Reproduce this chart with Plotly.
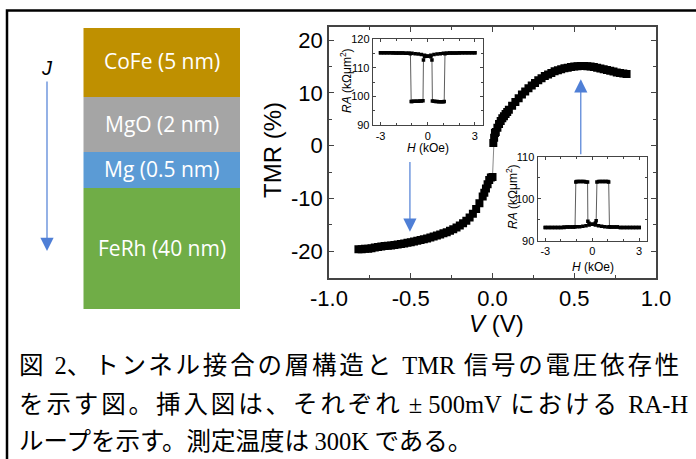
import plotly.graph_objects as go

W, H = 696, 459


def px(x):
    return x / W


def py(y):
    return 1 - y / H


# ---- TMR vs bias voltage -------------------------------------------------
v_neg = [-0.82, -0.80, -0.78, -0.76, -0.74, -0.72, -0.70, -0.68, -0.66, -0.64,
         -0.62, -0.60, -0.58, -0.56, -0.54, -0.52, -0.50, -0.48, -0.46, -0.44,
         -0.42, -0.40, -0.38, -0.36, -0.34, -0.32, -0.30, -0.28, -0.26, -0.24,
         -0.22, -0.20, -0.18, -0.16, -0.14, -0.12, -0.10, -0.08, -0.06, -0.05,
         -0.04, -0.03, -0.02, -0.01, 0.00]
tmr_neg = [-19.6, -19.6, -19.5, -19.5, -19.4, -19.3, -19.2, -19.1, -19.0, -18.95,
           -18.9, -18.8, -18.7, -18.6, -18.5, -18.4, -18.3, -18.15, -18.0, -17.85,
           -17.7, -17.55, -17.4, -17.2, -17.0, -16.8, -16.6, -16.4, -16.1, -15.8,
           -15.5, -15.1, -14.7, -14.2, -13.6, -12.9, -12.0, -10.9, -9.6, -8.9,
           -8.1, -7.3, -6.5, -6.0, -5.9]

v_pos = [0.005, 0.01, 0.015, 0.02, 0.03, 0.04, 0.05, 0.06, 0.07, 0.08,
         0.09, 0.10, 0.12, 0.14, 0.16, 0.18, 0.20, 0.22, 0.24, 0.26,
         0.28, 0.30, 0.32, 0.34, 0.36, 0.38, 0.40, 0.42, 0.44, 0.46,
         0.48, 0.50, 0.52, 0.54, 0.56, 0.58, 0.60, 0.62, 0.64, 0.66,
         0.68, 0.70, 0.72, 0.74, 0.76, 0.78, 0.80, 0.82]
tmr_pos = [0.5, 1.5, 2.4, 2.6, 3.4, 4.1, 4.7, 5.2, 5.6, 6.0,
           6.4, 6.8, 7.6, 8.3, 9.0, 9.7, 10.3, 10.9, 11.4, 11.9,
           12.4, 12.8, 13.2, 13.5, 13.8, 14.1, 14.3, 14.5, 14.7, 14.8,
           14.9, 15.0, 15.05, 15.1, 15.1, 15.05, 15.0, 14.9, 14.8, 14.65,
           14.5, 14.35, 14.2, 14.05, 13.9, 13.8, 13.7, 13.6]

v_ticks = [-1.0, -0.5, 0.0, 0.5, 1.0]
v_ticktext = ["-1.0", "-0.5", "0.0", "0.5", "1.0"]
tmr_ticks = [-20, -10, 0, 10, 20]
tmr_ticktext = ["-20", "-10", "0", "10", "20"]

# ---- RA-H loop at -500 mV ------------------------------------------------
h1_down = [3.0, 2.8, 2.6, 2.4, 2.2, 2.0, 1.8, 1.6, 1.4, 1.2, 1.0, 0.8, 0.6, 0.4,
           0.2, 0.0, -0.2, -0.27, -0.3, -0.4, -0.5, -0.6, -0.7, -0.8, -0.9,
           -1.0, -1.05, -1.1, -1.2, -1.4, -1.6, -1.8, -2.0, -2.2, -2.4, -2.6,
           -2.8, -3.0]
ra1_down = [115.3, 115.3, 115.3, 115.3, 115.3, 115.2, 115.2, 115.2, 115.2, 115.1,
            115.1, 115.0, 114.9, 114.7, 114.4, 114.2, 114.0, 112.8, 98.6, 98.5,
            98.5, 98.4, 98.4, 98.4, 98.4, 98.3, 98.3, 115.0, 115.1, 115.1,
            115.2, 115.2, 115.2, 115.3, 115.3, 115.3, 115.3, 115.3]
h1_up = [-3.0, -2.8, -2.6, -2.4, -2.2, -2.0, -1.8, -1.6, -1.4, -1.2, -1.0, -0.8,
         -0.6, -0.4, -0.2, 0.0, 0.2, 0.27, 0.3, 0.4, 0.5, 0.6, 0.7, 0.8, 0.9,
         1.0, 1.05, 1.1, 1.2, 1.4, 1.6, 1.8, 2.0, 2.2, 2.4, 2.6, 2.8, 3.0]
ra1_up = [115.3, 115.3, 115.3, 115.3, 115.2, 115.2, 115.2, 115.2, 115.1, 115.1,
          115.1, 115.0, 114.9, 114.7, 114.4, 114.1, 113.9, 112.8, 98.5, 98.4,
          98.3, 98.3, 98.2, 98.2, 98.2, 98.2, 98.3, 115.0, 115.1, 115.2,
          115.2, 115.2, 115.3, 115.3, 115.3, 115.3, 115.3, 115.3]

# ---- RA-H loop at +500 mV ------------------------------------------------
h2_down = [3.0, 2.8, 2.6, 2.4, 2.2, 2.0, 1.8, 1.6, 1.4, 1.2, 1.0, 0.8, 0.6, 0.4,
           0.2, 0.0, -0.2, -0.28, -0.3, -0.4, -0.5, -0.6, -0.7, -0.8, -0.9,
           -1.0, -1.05, -1.1, -1.2, -1.4, -1.6, -1.8, -2.0, -2.2, -2.4, -2.6,
           -2.8, -3.0]
ra2_down = [93.2, 93.2, 93.2, 93.2, 93.2, 93.2, 93.2, 93.3, 93.3, 93.3,
            93.3, 93.4, 93.5, 93.6, 93.8, 94.0, 94.2, 94.7, 104.0, 104.0,
            104.1, 104.1, 104.1, 104.1, 104.1, 104.1, 104.0, 93.4, 93.3, 93.3,
            93.3, 93.2, 93.2, 93.2, 93.2, 93.2, 93.2, 93.2]
h2_up = [-3.0, -2.8, -2.6, -2.4, -2.2, -2.0, -1.8, -1.6, -1.4, -1.2, -1.0, -0.8,
         -0.6, -0.4, -0.2, 0.0, 0.2, 0.25, 0.3, 0.4, 0.5, 0.6, 0.7, 0.8, 0.9,
         1.0, 1.05, 1.1, 1.2, 1.4, 1.6, 1.8, 2.0, 2.2, 2.4, 2.6, 2.8, 3.0]
ra2_up = [93.2, 93.2, 93.2, 93.2, 93.2, 93.2, 93.3, 93.3, 93.3, 93.3,
          93.4, 93.4, 93.5, 93.6, 93.8, 94.0, 94.3, 94.8, 104.0, 104.1,
          104.1, 104.1, 104.1, 104.1, 104.1, 104.1, 104.0, 93.4, 93.3, 93.3,
          93.3, 93.2, 93.2, 93.2, 93.2, 93.2, 93.2, 93.2]

h_ticks = [-3, 0, 3]
ra1_ticks = [90, 100, 110, 120]
ra2_ticks = [90, 100, 110]

# ---- layer stack ---------------------------------------------------------
layer_names = ["CoFe (5 nm)", "MgO (2 nm)", "Mg (0.5 nm)", "FeRh (40 nm)"]
layer_colors = ["#BF9000", "#A5A5A5", "#5B9BD5", "#70AD47"]
layer_edges = [28, 97, 152, 188, 309]   # pixel rows of the layer boundaries

# ---- caption (first two lines are justified to the full width) -----------
SERIF = "<span style=\"font-family:Liberation Serif;letter-spacing:0px\">{}</span>"
JUSTIFY = "<span style=\"letter-spacing:{}px\">{}</span>"
caption_lines = [
    JUSTIFY.format(2.8, "図 " + SERIF.format("2") + "、トンネル接合の層構造と "
                   + SERIF.format("TMR") + " 信号の電圧依存性"),
    JUSTIFY.format(2.9, "を示す図。挿入図は、それぞれ" + SERIF.format(" ± 500mV")
                   + " における " + SERIF.format("RA-H")),
    "ループを示す。測定温度は " + SERIF.format("300K") + " である。",
]

AX_COLOR = "#444444"
TICK_FONT = "Liberation Sans, Arial, sans-serif"
ARROW_BLUE = "#4F7FD6"

fig = go.Figure()

fig.add_trace(go.Scatter(
    x=v_neg + v_pos, y=tmr_neg + tmr_pos, mode="lines+markers",
    marker=dict(symbol="square", size=8, color="black"),
    line=dict(color="#888888", width=1),
    xaxis="x", yaxis="y", showlegend=False))

for hx, ry in [(h1_down, ra1_down), (h1_up, ra1_up)]:
    fig.add_trace(go.Scatter(
        x=hx, y=ry, mode="lines+markers",
        marker=dict(symbol="square", size=3.5, color="black"),
        line=dict(color="#333333", width=0.8),
        xaxis="x2", yaxis="y2", showlegend=False))

for hx, ry in [(h2_down, ra2_down), (h2_up, ra2_up)]:
    fig.add_trace(go.Scatter(
        x=hx, y=ry, mode="lines+markers",
        marker=dict(symbol="square", size=3.5, color="black"),
        line=dict(color="#333333", width=0.8),
        xaxis="x3", yaxis="y3", showlegend=False))


def axis_style(**kw):
    base = dict(showline=True, linecolor=AX_COLOR, linewidth=1.5, mirror="ticks",
                ticks="inside", tickcolor=AX_COLOR, showgrid=False, zeroline=False,
                automargin=False)
    base.update(kw)
    return base


fig.update_layout(
    width=W, height=H, autosize=False,
    margin=dict(l=0, r=0, t=0, b=0, pad=0),
    paper_bgcolor="white", plot_bgcolor="white", showlegend=False,
    xaxis=axis_style(domain=[px(329), px(656)], range=[-1, 1], anchor="y",
                     tickvals=v_ticks, ticktext=v_ticktext, ticklen=5,
                     tickfont=dict(family=TICK_FONT, size=22, color="black"),
                     minor=dict(ticks="inside", ticklen=3, dtick=0.25, tick0=0,
                                tickcolor=AX_COLOR)),
    yaxis=axis_style(domain=[py(277.7), py(27)], range=[-25, 22.5], anchor="x",
                     tickvals=tmr_ticks, ticktext=tmr_ticktext, ticklen=5,
                     tickfont=dict(family=TICK_FONT, size=22, color="black"),
                     minor=dict(ticks="inside", ticklen=3, dtick=5, tick0=0,
                                tickcolor=AX_COLOR)),
    xaxis2=axis_style(domain=[px(372.7), px(482.7)], range=[-3.5, 3.5], anchor="y2",
                      tickvals=h_ticks, ticktext=["-3", "0", "3"], ticklen=3,
                      linewidth=1, tickfont=dict(family=TICK_FONT, size=11, color="black"),
                      minor=dict(ticks="inside", ticklen=2, dtick=1, tick0=0,
                                 tickcolor=AX_COLOR)),
    yaxis2=axis_style(domain=[py(125.3), py(39.3)], range=[90, 120], anchor="x2",
                      tickvals=ra1_ticks, ticklen=3, linewidth=1,
                      tickfont=dict(family=TICK_FONT, size=11, color="black"),
                      minor=dict(ticks="inside", ticklen=2, dtick=5, tick0=0,
                                 tickcolor=AX_COLOR)),
    xaxis3=axis_style(domain=[px(537.5), px(647)], range=[-3.5, 3.5], anchor="y3",
                      tickvals=h_ticks, ticktext=["-3", "0", "3"], ticklen=3,
                      linewidth=1, tickfont=dict(family=TICK_FONT, size=11, color="black"),
                      minor=dict(ticks="inside", ticklen=2, dtick=1, tick0=0,
                                 tickcolor=AX_COLOR)),
    yaxis3=axis_style(domain=[py(241), py(156.7)], range=[90, 110], anchor="x3",
                      tickvals=ra2_ticks, ticklen=3, linewidth=1,
                      tickfont=dict(family=TICK_FONT, size=11, color="black"),
                      minor=dict(ticks="inside", ticklen=2, dtick=5, tick0=0,
                                 tickcolor=AX_COLOR)),
)

shapes = []
# outer frame around figure and caption
shapes.append(dict(type="rect", xref="paper", yref="paper",
                   x0=px(7), x1=1.05, y0=-0.2, y1=py(10.5),
                   line=dict(color="black", width=2.5), fillcolor="rgba(0,0,0,0)"))
# layer stack rectangles
for i, color in enumerate(layer_colors):
    shapes.append(dict(type="rect", xref="paper", yref="paper",
                       x0=px(83.5), x1=px(240), y0=py(layer_edges[i + 1]),
                       y1=py(layer_edges[i]), line=dict(width=0), fillcolor=color,
                       layer="below"))
fig.update_layout(shapes=shapes)


def label(x, y, text, size, family=TICK_FONT, color="black", angle=0,
          xanchor="center"):
    return dict(xref="paper", yref="paper", x=px(x), y=py(y), text=text,
                showarrow=False, xanchor=xanchor, yanchor="middle",
                textangle=angle, borderpad=0,
                font=dict(family=family, size=size, color=color))


ann = []
for i, name in enumerate(layer_names):
    ann.append(label(161.5, (layer_edges[i] + layer_edges[i + 1]) / 2 - 1, name,
                     21, family="Open Sans", color="white"))

# current direction J
ann.append(label(47, 68, "<i>J</i>", 20))
ann.append(dict(xref="paper", yref="paper", x=px(47), y=py(251), ax=0, ay=-171,
                text="", showarrow=True, arrowhead=2, arrowsize=2.2, arrowwidth=1.2,
                arrowcolor=ARROW_BLUE))

# arrows pointing from the insets to their bias points
ann.append(dict(xref="x", yref="y", axref="x", ayref="y", x=-0.505, y=-16.3,
                ax=-0.505, ay=-2.8, text="", showarrow=True, arrowhead=2,
                arrowsize=2.2, arrowwidth=1.2, arrowcolor=ARROW_BLUE))
ann.append(dict(xref="x", yref="y", axref="x", ayref="y", x=0.54, y=12.6,
                ax=0.54, ay=-1.9, text="", showarrow=True, arrowhead=2,
                arrowsize=2.2, arrowwidth=1.2, arrowcolor=ARROW_BLUE))

# axis titles
ann.append(label(273, 150, "TMR (%)", 24, angle=-90))
ann.append(label(496, 323, "<i>V</i> (V)", 24))
ra_title = "<i>RA</i> (kΩμm<sup>2</sup>)"
ann.append(label(346, 81, ra_title, 12, angle=-90))
ann.append(label(512, 197, ra_title, 12, angle=-90))
ann.append(label(427.7, 147.5, "<i>H</i> (kOe)", 12))
ann.append(label(593, 266.5, "<i>H</i> (kOe)", 12))

# caption
for line, yc in zip(caption_lines, [363, 402, 439]):
    ann.append(label(18, yc, line, 24.5, family="Noto Sans CJK JP", xanchor="left"))

fig.update_layout(annotations=ann)

fig.write_html("out.html", post_script="document.body.style.margin='0';")
